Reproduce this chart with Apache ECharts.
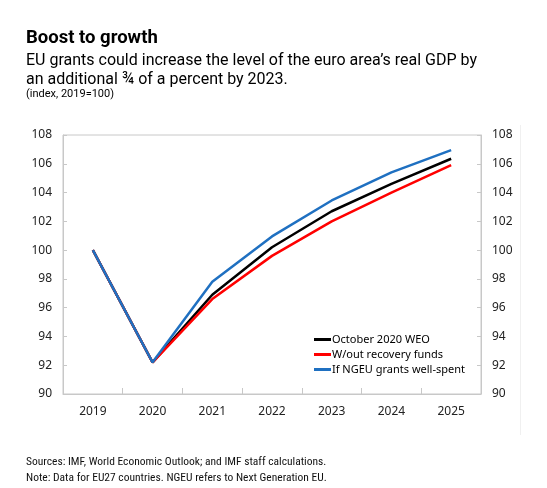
<!DOCTYPE html>
<html>
<head>
<meta charset="utf-8">
<script src="https://cdn.jsdelivr.net/npm/echarts@6/dist/echarts.min.js"></script>
<style>
html,body{margin:0;padding:0;background:#fff;}
#chart{width:547px;height:488px;}
</style>
</head>
<body>
<div id="chart"></div>
<script>
const years = ['2019','2020','2021','2022','2023','2024','2025'];
const weoOct2020 = [100, 92.2, 96.9, 100.2, 102.7, 104.6, 106.35];
const withoutFunds = [100, 92.2, 96.6, 99.6, 102.0, 104.0, 105.9];
const ngeuWellSpent = [100, 92.2, 97.8, 100.95, 103.45, 105.4, 106.95];
const yTicks = {min: 90, max: 108, interval: 2};

const chart = echarts.init(document.getElementById('chart'));
const axisFont = {fontFamily: 'Noto Sans', fontSize: 12, color: '#222'};
function yAxis(pos) {
  return {
    type: 'value', position: pos, min: yTicks.min, max: yTicks.max, interval: yTicks.interval,
    axisLine: {show: true, lineStyle: {color: '#c8c8c8'}},
    axisTick: {show: true, inside: true, length: 4, lineStyle: {color: '#c8c8c8'}},
    splitLine: {show: false},
    axisLabel: Object.assign({margin: 11}, axisFont)
  };
}
function lineSeries(name, data, color, yi) {
  return {
    name: name, type: 'line', data: data, yAxisIndex: yi, symbol: 'none',
    lineStyle: {color: color, width: 2.5}, itemStyle: {color: color}, animation: false
  };
}
chart.setOption({
  animation: false,
  title: [
    {text: 'Boost to growth', left: 21, top: 24, textStyle: {fontFamily: 'Roboto', fontWeight: 'bold', fontSize: 18.5, color: '#000'}},
    {text: 'EU grants could increase the level of the euro area\u2019s real GDP by\nan additional \u00be of a percent by 2023.', left: 21, top: 46,
     textStyle: {fontFamily: 'Roboto', fontWeight: 'normal', fontSize: 16, lineHeight: 19, color: '#000'}},
    {text: '(index, 2019=100)', left: 21, top: 84, textStyle: {fontFamily: 'Roboto', fontWeight: 'normal', fontSize: 11, color: '#000'}},
    {text: 'Sources: IMF, World Economic Outlook; and IMF staff calculations.\nNote: Data for EU27 countries. NGEU refers to Next Generation EU.', left: 21, top: 449,
     textStyle: {fontFamily: 'Roboto Condensed, Liberation Sans Narrow, Roboto', fontWeight: 'normal', fontSize: 11.5, lineHeight: 16, color: '#111'}}
  ],
  grid: {left: 63, right: 66, top: 135, bottom: 94, show: true, borderColor: '#c8c8c8', borderWidth: 1},
  legend: {
    orient: 'vertical', left: 309, top: 329, itemWidth: 17, itemHeight: 3, itemGap: 4,
    icon: 'rect',
    textStyle: Object.assign({padding: [0, 0, 0, -4]}, axisFont, {fontSize: 11, color: '#000'}),
    data: ['October 2020 WEO', 'W/out recovery funds', 'If NGEU grants well-spent']
  },
  xAxis: {
    type: 'category', data: years, boundaryGap: true,
    axisLine: {show: true, lineStyle: {color: '#c8c8c8'}},
    axisTick: {show: true, inside: true, length: 6, lineStyle: {color: '#c8c8c8'}},
    axisLabel: Object.assign({margin: 12}, axisFont)
  },
  yAxis: [yAxis('left'), yAxis('right')],
  series: [
    lineSeries('October 2020 WEO', weoOct2020, '#000000', 0),
    lineSeries('W/out recovery funds', withoutFunds, '#ff0000', 0),
    lineSeries('If NGEU grants well-spent', ngeuWellSpent, '#1f70c1', 0)
  ],
  graphic: [{type: 'line', shape: {x1: 520.5, y1: 125, x2: 520.5, y2: 435}, style: {stroke: '#f0f0f0', lineWidth: 1}}]
});
</script>
</body>
</html>
